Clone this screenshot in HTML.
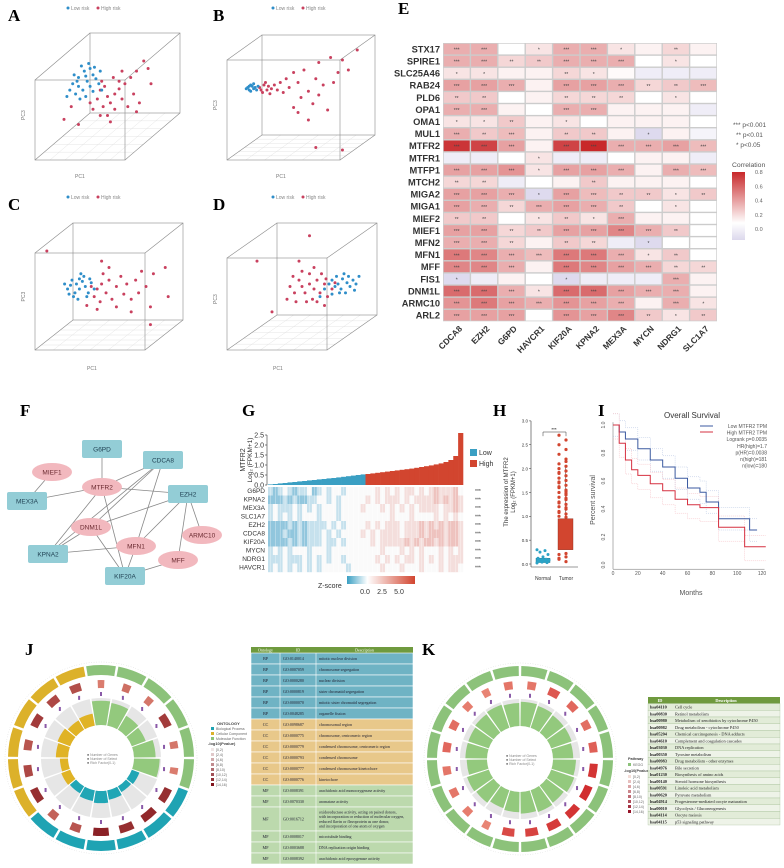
<!DOCTYPE html>
<html><head><meta charset="utf-8"><style>
html,body{margin:0;padding:0;background:#fff;}
svg{display:block;font-family:"Liberation Sans",sans-serif;}
.pl{font-family:"Liberation Serif",serif;font-weight:bold;font-size:17px;}
</style></head><body>
<svg id="fig" width="784" height="868" viewBox="0 0 784 868" xmlns="http://www.w3.org/2000/svg"></svg>
<script>
// ---------- DATA ----------
const pcaBlueA=[[30,35],[34,30],[38,28],[40,33],[36,38],[42,36],[30,42],[26,40],[33,45],[38,42],[44,40],[28,48],[35,50],[40,46],[24,45],[32,26],[45,30],[37,24],[22,50],[29,38],[41,27],[35,34],[31,52],[46,45],[27,33]];
const pcaRedA=[[45,45],[50,50],[48,42],[55,48],[52,55],[58,44],[43,52],[47,58],[60,52],[62,40],[66,35],[70,30],[75,22],[68,48],[72,55],[55,60],[50,65],[40,60],[58,38],[64,58],[80,40],[54,35],[46,38],[38,55],[25,58],[60,30],[78,28],[45,65],[70,62],[52,70],[20,68],[30,72]];
const pcaBlueB=[[14,42],[16,40],[18,43],[15,44],[17,41],[19,42],[13,43],[20,44],[16,45],[18,39],[21,41],[15,41]];
const pcaRedB=[[22,42],[25,40],[27,44],[24,46],[28,41],[30,43],[26,38],[32,40],[29,47],[34,44],[23,44],[36,38],[38,46],[40,35],[42,42],[45,30],[48,38],[50,50],[52,28],[55,45],[58,55],[60,35],[62,22],[65,40],[68,60],[70,18],[72,38],[75,30],[78,20],[82,28],[48,62],[55,68],[45,58],[62,48],[88,12],[60,90],[78,92]];
const pcaBlueC=[[25,45],[28,48],[30,52],[27,55],[32,46],[34,50],[22,52],[26,58],[30,44],[36,55],[24,49],[33,42],[38,47],[29,60],[20,48],[35,58],[31,40],[40,52],[23,56],[37,44]];
const pcaRedC=[[38,50],[42,52],[45,48],[40,58],[48,55],[50,45],[44,62],[52,60],[55,50],[58,42],[46,40],[60,56],[62,48],[65,60],[68,45],[70,55],[72,38],[75,50],[42,68],[55,66],[80,40],[88,35],[90,58],[65,70],[35,65],[50,35],[45,30],[78,66],[8,22],[78,80]];
const pcaBlueD=[[70,45],[74,48],[77,44],[80,47],[76,52],[72,50],[82,50],[78,40],[84,45],[75,55],[68,48],[86,48],[73,42],[79,55],[81,42],[70,56],[65,52],[85,53],[62,58],[88,42]];
const pcaRedD=[[55,48],[58,52],[60,45],[62,55],[52,55],[65,48],[50,50],[57,60],[48,45],[63,40],[55,40],[67,58],[45,55],[53,62],[70,52],[60,62],[46,62],[50,38],[42,50],[58,35],[66,44],[44,42],[72,47],[40,60],[48,30],[20,30],[55,10],[65,65],[30,70]];

const corrRows=["STX17","SPIRE1","SLC25A46","RAB24","PLD6","OPA1","OMA1","MUL1","MTFR2","MTFR1","MTFP1","MTCH2","MIGA2","MIGA1","MIEF2","MIEF1","MFN2","MFN1","MFF","FIS1","DNM1L","ARMC10","ARL2"];
const corrCols=["CDCA8","EZH2","G6PD","HAVCR1","KIF20A","KPNA2","MEX3A","MYCN","NDRG1","SLC1A7"];
const corrVals=[
[.3,.3,0,.1,.3,.3,.1,.05,.15,.05],[.3,.3,.15,.2,.3,.3,.3,0,.1,0],[.1,.1,.05,.05,.15,.1,.02,-.05,-.05,-.05],
[.35,.35,.3,.05,.35,.35,.3,.15,.2,.25],[.2,.2,0,.05,.15,.15,.15,0,.1,0],[.3,.3,.05,0,.3,.3,.05,.05,.05,-.05],
[.1,.1,.2,.05,.1,0,.05,.05,.05,0],[.3,.2,.25,.05,.2,.2,.05,-.1,.05,-.03],[.75,.7,.35,.05,.7,.8,.3,.3,.35,.25],
[-.05,-.05,0,.1,-.05,-.05,0,.05,.05,-.05],[.35,.35,.4,.1,.35,.35,.3,.05,.3,.25],[.15,.15,-.05,0,.05,.2,.05,.05,.05,0],
[.35,.35,.3,-.1,.35,.25,.2,.2,.1,.2],[.35,.3,.15,.3,.35,.3,.2,0,.1,0],[.2,.2,0,.1,.2,.1,.3,.05,.05,0],
[.35,.35,.15,.2,.35,.35,.45,.3,.2,0],[.3,.3,.15,.05,.2,.15,-.05,-.1,0,0],[.5,.45,.3,.25,.5,.5,.3,.1,.2,0],
[.45,.45,.3,.05,.5,.45,.35,.3,.15,.15],[-.1,-.05,.05,0,-.1,-.05,-.05,-.05,.3,.05],[.55,.55,.3,.1,.55,.55,.35,.3,.3,.05],
[.4,.5,.35,.3,.4,.35,.3,.05,.3,.1],[.35,.35,.35,0,.4,.35,.45,.2,.1,.2]];
const corrTicks=[0.8,0.6,0.4,0.2,0.0];

const exprVals=[0.03,0.05,0.08,0.10,0.13,0.15,0.18,0.20,0.23,0.25,0.28,0.30,0.33,0.35,0.38,0.41,0.44,0.47,0.50,0.53,0.55,0.58,0.61,0.64,0.67,0.70,0.73,0.76,0.79,0.82,0.86,0.90,0.94,0.98,1.03,1.08,1.15,1.25,1.45,2.6];
const exprTicks=[0,0.5,1,1.5,2,2.5];
const zGenes=["G6PD","KPNA2","MEX3A","SLC1A7","EZH2","CDCA8","KIF20A","MYCN","NDRG1","HAVCR1"];
const zRows=["1012101120121221222222323232332323433342","0001010011221212222232323332323333434343","1211121212122212222322232323232333323343","1212121222122212222222222322232222323232","0000101011112121222232323332333434343443","0001001011121212222323233332333434443443","0000101011121121222223233333434344343443","1212122212221222222222232223232322232323","1112111212121221222222323232332323232333","1212121212122222122222232223222322232332"];

const normalVals=[0.02,0.04,0.05,0.06,0.07,0.08,0.09,0.1,0.12,0.15,0.2,0.25,0.28,0.3,0.05,0.03];
const tumorVals=[2.7,2.6,2.5,2.4,2.3,2.2,2.1,2.05,2.0,1.95,1.9,1.85,1.8,1.75,1.7,1.65,1.6,1.55,1.5,1.45,1.4,1.35,1.3,1.25,1.2,1.15,1.1,1.05,1.0,0.98,0.1,0.15,0.2,0.05,0.12,0.22,1.62,1.48,1.72,1.38,1.28,1.18,1.08,2.15,1.92,1.52];
const normalBox=[0.03,0.07,0.12];
const tumorBox=[0.3,0.55,0.95,0.02,2.05];
const hTicks=[0,0.5,1,1.5,2,2.5,3];

const kmLowT=[0,5,10,20,30,40,50,60,70,75,80,85,110,116];
const kmLowS=[1,.95,.9,.83,.75,.7,.62,.55,.52,.45,.45,.33,.25,.25];
const kmHighT=[0,5,10,15,20,30,40,50,60,70,83,85,106,123];
const kmHighS=[1,.87,.75,.68,.64,.58,.53,.47,.43,.41,.41,.27,.13,.13];
const kmXTicks=[0,20,40,60,80,100,120];
const kmYTicks=[0,0.2,0.4,0.6,0.8,1.0];

const goCats=["MF","MF","MF","MF","MF","MF","BP","BP","BP","BP","BP","BP","CC","CC","CC","CC","CC","CC"];
const goGenes=[0.9,0.85,0.6,0.55,0.8,0.95,0.3,0.25,0.35,0.45,0.4,0.3,0.35,0.3,0.45,0.5,0.4,0.45];
const goP=[0.2,0.3,0.25,0.7,0.25,0.2,0.8,0.85,0.8,0.9,0.5,0.4,0.8,0.6,0.5,0.7,0.6,0.55];
const keggGenes=[0.9,0.85,0.8,0.8,0.75,0.85,0.9,0.8,0.85,0.8,0.75,0.7,0.8,0.85,0.75,0.8,0.8,0.85,0.9,0.85];
const keggP=[0.4,0.6,0.5,0.45,0.55,0.85,0.9,0.85,0.8,0.75,0.7,0.3,0.35,0.4,0.4,0.5,0.45,0.35,0.3,0.4];

const goTable=[["BP","GO:0140014","mitotic nuclear division"],["BP","GO:0007059","chromosome segregation"],["BP","GO:0000280","nuclear division"],["BP","GO:0000819","sister chromatid segregation"],["BP","GO:0000070","mitotic sister chromatid segregation"],["BP","GO:0048285","organelle fission"],["CC","GO:0098687","chromosomal region"],["CC","GO:0000775","chromosome, centromeric region"],["CC","GO:0000779","condensed chromosome, centromeric region"],["CC","GO:0000793","condensed chromosome"],["CC","GO:0000777","condensed chromosome kinetochore"],["CC","GO:0000776","kinetochore"],["MF","GO:0008391","arachidonic acid monooxygenase activity"],["MF","GO:0070330","aromatase activity"],["MF","GO:0016712","oxidoreductase activity, acting on paired donors,|with incorporation or reduction of molecular oxygen,|reduced flavin or flavoprotein as one donor,|and incorporation of one atom of oxygen"],["MF","GO:0008017","microtubule binding"],["MF","GO:0003688","DNA replication origin binding"],["MF","GO:0008392","arachidonic acid epoxygenase activity"]];
const keggTable=[["hsa04110","Cell cycle"],["hsa00830","Retinol metabolism"],["hsa00980","Metabolism of xenobiotics by cytochrome P450"],["hsa00982","Drug metabolism - cytochrome P450"],["hsa05204","Chemical carcinogenesis - DNA adducts"],["hsa04610","Complement and coagulation cascades"],["hsa03030","DNA replication"],["hsa00350","Tyrosine metabolism"],["hsa00983","Drug metabolism - other enzymes"],["hsa04976","Bile secretion"],["hsa01230","Biosynthesis of amino acids"],["hsa00140","Steroid hormone biosynthesis"],["hsa00591","Linoleic acid metabolism"],["hsa00620","Pyruvate metabolism"],["hsa04914","Progesterone-mediated oocyte maturation"],["hsa00010","Glycolysis / Gluconeogenesis"],["hsa04114","Oocyte meiosis"],["hsa04115","p53 signaling pathway"]];

// ---------- HELPERS ----------
const NS="http://www.w3.org/2000/svg";
const svg=document.getElementById('fig');
function mk(tag,attrs,parent,txt){const e=document.createElementNS(NS,tag);for(const k in attrs)e.setAttribute(k,attrs[k]);if(txt!==undefined)e.textContent=txt;(parent||svg).appendChild(e);return e;}
function grp(name){const g=mk('g',{});return g;}
function label(t,x,y){const e=mk('text',{x:x,y:y,class:'pl'},svg,t);}
function lerp(a,b,t){return a+(b-a)*t;}
function mix(c1,c2,t){return 'rgb('+[0,1,2].map(i=>Math.round(lerp(c1[i],c2[i],t))).join(',')+')';}

// ---------- PANELS A-D ----------
function pca(name,lab,lx,ly,front,off,blue,red,pc1x,pc1y){
  label(lab,lx,ly);
  const g=grp(name);
  const [x0,y0,x1,y1]=front;const [dx,dy]=off;
  const lgy=ly-13;
  const lxx=lx+60;
  const lg=mk('g',{},g);
  mk('circle',{cx:lxx,cy:lgy,r:1.5,fill:'#2f8ec9'},lg);mk('text',{x:lxx+3,y:lgy+2,'font-size':5,fill:'#888'},lg,'Low risk');
  mk('circle',{cx:lxx+30,cy:lgy,r:1.5,fill:'#c9415f'},lg);mk('text',{x:lxx+33,y:lgy+2,'font-size':5,fill:'#888'},lg,'High risk');
  const st={stroke:'#8a8a8a','stroke-width':0.6,fill:'none'};
  for(let i=1;i<6;i++){const t=i/6;
    mk('line',{x1:lerp(x0,x1,t),y1:y1,x2:lerp(x0,x1,t)+dx,y2:y1+dy,stroke:'#ddd','stroke-width':0.4},g);
    mk('line',{x1:x0+dx*t,y1:y1+dy*t,x2:x1+dx*t,y2:y1+dy*t,stroke:'#ddd','stroke-width':0.4},g);}
  mk('rect',Object.assign({x:x0+dx,y:y0+dy,width:x1-x0,height:y1-y0},st),g);
  mk('rect',Object.assign({x:x0,y:y0,width:x1-x0,height:y1-y0},st),g);
  [[x0,y0],[x1,y0],[x0,y1],[x1,y1]].forEach(p=>mk('line',Object.assign({x1:p[0],y1:p[1],x2:p[0]+dx,y2:p[1]+dy},st),g));
  const sx=x0,sw=(x1+dx)-x0,sy=y0+dy,sh=y1-(y0+dy);
  const pts=(arr,col,n)=>arr.forEach(p=>{const c=mk('circle',{cx:sx+p[0]/100*sw,cy:sy+p[1]/100*sh,r:1.5,fill:col},g);
    
    });
  pts(red,'#c9415f','high-risk-point');pts(blue,'#2f8ec9','low-risk-point');
  mk('text',{x:pc1x,y:pc1y,'font-size':5,fill:'#777'},g,'PC1');
  mk('text',{x:x0-10,y:(y0+y1)/2,'font-size':5,fill:'#777',transform:`rotate(-90 ${x0-10} ${(y0+y1)/2})`},g,'PC3');
}
pca('pca-plot-a','A',8,21,[35,80,125,160],[55,-47],pcaBlueA,pcaRedA,75,178);
pca('pca-plot-b','B',213,21,[227,60,340,160],[35,-25],pcaBlueB,pcaRedB,276,178);
pca('pca-plot-c','C',8,210,[35,253,145,350],[38,-30],pcaBlueC,pcaRedC,87,370);
pca('pca-plot-d','D',213,210,[227,258,327,350],[50,-35],pcaBlueD,pcaRedD,273,370);

// ---------- PANEL E ----------
label('E',398,14);
(function(){
  const g=grp('correlation-heatmap');
  const gx=443,gy=43,cw=27.4,ch=12.1;
  mk('rect',{x:gx,y:gy,width:cw*corrCols.length,height:ch*corrRows.length,fill:'#ccc'},g);
  const col=v=>v>=0?mix([255,255,255],[200,40,42],Math.min(v/0.8,1)):mix([255,255,255],[222,218,238],Math.min(-v/0.1,1));
  corrRows.forEach((r,i)=>{
    const t=mk('text',{x:gx-3,y:gy+ch*i+ch/2+3.3,'font-size':9.3,'font-weight':'bold','text-anchor':'end',fill:'#333'},g,r);
    
    corrCols.forEach((c,j)=>{const v=corrVals[i][j];
      const cell=mk('rect',{x:gx+cw*j+0.7,y:gy+ch*i+0.7,width:cw-1.4,height:ch-1.4,fill:col(v)},g);
      
      
      const a=Math.abs(v);const s=a>=0.25?'***':a>=0.15?'**':a>=0.1?'*':'';
      if(s)mk('text',{x:gx+cw*j+cw/2,y:gy+ch*i+ch/2+2.5,'font-size':5,'text-anchor':'middle',fill:'#444'},g,s);
    });});
  corrCols.forEach((c,j)=>{const x=gx+cw*j+cw/2+6,y=gy+ch*corrRows.length+8;
    const t=mk('text',{x:x,y:y,'font-size':8.5,'font-weight':'bold','text-anchor':'end',fill:'#333',transform:`rotate(-45 ${x} ${y})`},g,c);
    });
  const lg=mk('g',{},g);
  [['***  p<0.001',127],['**  p<0.01',137],['*  p<0.05',147]].forEach((p,i)=>mk('text',{x:733+(i?3:0),y:p[1],'font-size':6.5,fill:'#555'},lg,p[0]));
  mk('text',{x:732,y:167,'font-size':6.8,fill:'#555'},lg,'Correlation');
  const def=mk('defs',{},svg);const lgd=mk('linearGradient',{id:'cg',x1:0,y1:0,x2:0,y2:1},def);
  mk('stop',{offset:'0','stop-color':'#c8282a'},lgd);mk('stop',{offset:'0.75','stop-color':'#fff'},lgd);mk('stop',{offset:'1','stop-color':'#dcd8ec'},lgd);
  mk('rect',{x:732,y:172,width:13,height:68,fill:'url(#cg)'},lg);
  const cy=v=>229-v/0.8*57;
  corrTicks.forEach(v=>mk('text',{x:755,y:cy(v)+2,'font-size':5.5,fill:'#666'},lg,v.toFixed(1)));
})();

// ---------- PANEL F ----------
label('F',20,416);
(function(){
  const g=grp('ppi-network');
  const nodes={G6PD:[102,449,'r'],CDCA8:[163,460,'r'],MIEF1:[52,472,'e'],MTFR2:[102,487,'e'],MEX3A:[27,501,'r'],EZH2:[188,494,'r'],DNM1L:[91,527,'e'],ARMC10:[202,535,'e'],MFN1:[136,546,'e'],KPNA2:[48,554,'r'],MFF:[178,560,'e'],KIF20A:[125,576,'r']};
  const edges=[['G6PD','MTFR2'],['MIEF1','MEX3A'],['MEX3A','MTFR2'],['MTFR2','CDCA8'],['MTFR2','EZH2'],['MTFR2','KPNA2'],['MTFR2','KIF20A'],['CDCA8','DNM1L'],['CDCA8','MFN1'],['EZH2','DNM1L'],['EZH2','MFN1'],['EZH2','ARMC10'],['EZH2','MFF'],['DNM1L','KPNA2'],['DNM1L','KIF20A'],['MFN1','KPNA2'],['MFN1','KIF20A'],['MFF','KIF20A'],['CDCA8','KPNA2']];
  edges.forEach(e=>{const a=nodes[e[0]],b=nodes[e[1]];mk('line',{x1:a[0],y1:a[1],x2:b[0],y2:b[1],stroke:'#888','stroke-width':0.8},g);});
  for(const k in nodes){const n=nodes[k];const ng=mk('g',{},g);
    if(n[2]==='r')mk('rect',{x:n[0]-20,y:n[1]-9,width:40,height:18,rx:2,fill:'#93cdd6'},ng);
    else mk('ellipse',{cx:n[0],cy:n[1],rx:20,ry:9,fill:'#f2b8be'},ng);
    mk('text',{x:n[0],y:n[1]+2.5,'font-size':6.5,'text-anchor':'middle',fill:n[2]==='r'?'#245':'#6a2a30'},ng,k);}
})();

// ---------- PANEL G ----------
label('G',242,416);
(function(){
  const g=grp('expression-ranked-heatmap');
  const x0=268,x1=463,y0=485;const bw=(x1-x0)/exprVals.length;
  const y=v=>y0-v*20;
  mk('line',{x1:x0-1,y1:y(0),x2:x0-1,y2:y(2.5),stroke:'#333','stroke-width':0.6},g);
  exprTicks.forEach(t=>{mk('line',{x1:x0-3,y1:y(t),x2:x0-1,y2:y(t),stroke:'#333','stroke-width':0.6},g);mk('text',{x:x0-4,y:y(t)+2.5,'font-size':7,'text-anchor':'end',fill:'#333'},g,t.toFixed(1));});
  exprVals.forEach((v,i)=>{const b=mk('rect',{x:x0+i*bw,y:y(v),width:bw+0.3,height:v*20,fill:i<exprVals.length/2?'#3a9fc3':'#d2452f'},g);
    });
  mk('text',{x:245,y:460,'font-size':7,'text-anchor':'middle',fill:'#333',transform:'rotate(-90 245 460)'},g,'MTFR2');
  mk('text',{x:252,y:460,'font-size':6.5,'text-anchor':'middle',fill:'#333',transform:'rotate(-90 252 460)'},g,'Log₂ (FPKM+1)');
  mk('rect',{x:470,y:449,width:7,height:7,fill:'#3a9fc3'},g);mk('text',{x:479,y:455,'font-size':7,fill:'#333'},g,'Low');
  mk('rect',{x:470,y:460,width:7,height:7,fill:'#d2452f'},g);mk('text',{x:479,y:466,'font-size':7,fill:'#333'},g,'High');
  const hy=487,rh=8.5,cols=zRows[0].length,cw=(x1-x0)/cols;
  const zc=d=>d<2?mix([250,252,253],[110,180,210],(2-d)/2*0.75):mix([250,250,250],[220,110,100],(d-2)/3*0.6);
  zGenes.forEach((gn,i)=>{mk('text',{x:x0-3,y:hy+rh*i+6,'font-size':6.5,'text-anchor':'end',fill:'#333'},g,gn);
    mk('text',{x:475,y:hy+rh*i+6,'font-size':5,fill:'#333'},g,'***');
    zRows[i].split('').forEach((d,j)=>{const c=mk('rect',{x:x0+j*cw,y:hy+rh*i,width:cw+0.2,height:rh+0.2,fill:zc(+d)},g);
      
      mk('line',{x1:x0+j*cw+cw/2,y1:hy+rh*i,x2:x0+j*cw+cw/2,y2:hy+rh*(i+1),stroke:'#fff','stroke-width':0.5,'stroke-opacity':0.6},g);});});
  const def=mk('defs',{},svg);const lgd=mk('linearGradient',{id:'zg'},def);
  mk('stop',{offset:'0','stop-color':'#3a9fc3'},lgd);mk('stop',{offset:'0.3','stop-color':'#fff'},lgd);mk('stop',{offset:'1','stop-color':'#d2452f'},lgd);
  mk('rect',{x:347,y:576,width:68,height:8,fill:'url(#zg)'},g);
  mk('text',{x:318,y:588,'font-size':7,fill:'#333'},g,'Z-score');
  [['0.0',365],['2.5',382],['5.0',399]].forEach(p=>mk('text',{x:p[1],y:594,'font-size':7,'text-anchor':'middle',fill:'#333'},g,p[0]));
})();

// ---------- PANEL H ----------
label('H',493,416);
(function(){
  const g=grp('mtfr2-boxplot');
  const ax=531,y=v=>564-v*47.7;
  mk('line',{x1:ax,y1:y(0)+3,x2:ax,y2:y(3),stroke:'#333','stroke-width':0.6},g);
  mk('line',{x1:ax,y1:y(0)+3,x2:578,y2:y(0)+3,stroke:'#333','stroke-width':0.6},g);
  hTicks.forEach(t=>{mk('line',{x1:ax-2,y1:y(t),x2:ax,y2:y(t),stroke:'#333','stroke-width':0.5},g);mk('text',{x:ax-3,y:y(t)+1.8,'font-size':4.5,'text-anchor':'end',fill:'#333'},g,t.toFixed(1));});
  mk('text',{x:508,y:492,'font-size':6,'text-anchor':'middle',fill:'#333',transform:'rotate(-90 508 492)'},g,'The expression of MTFR2');
  mk('text',{x:515,y:492,'font-size':6,'text-anchor':'middle',fill:'#333',transform:'rotate(-90 515 492)'},g,'Log₂ (FPKM+1)');
  mk('rect',{x:536,y:y(normalBox[2]),width:14,height:(normalBox[2]-normalBox[0])*47.7,fill:'#2ba3c6',stroke:'#1a6a80','stroke-width':0.4},g);
  mk('rect',{x:558,y:y(tumorBox[2]),width:15,height:(tumorBox[2]-tumorBox[0])*47.7,fill:'#d2452f',stroke:'#8a2a1a','stroke-width':0.4},g);
  mk('line',{x1:565.5,y1:y(tumorBox[2]),x2:565.5,y2:y(tumorBox[4]),stroke:'#333','stroke-width':0.5},g);
  normalVals.forEach((v,i)=>{const c=mk('circle',{cx:537+(i*5%13),cy:y(v),r:1.5,fill:'#2ba3c6'},g);});
  tumorVals.forEach((v,i)=>{const c=mk('circle',{cx:559+(i*7%14),cy:y(v),r:1.6,fill:'#d2452f'},g);});
  mk('path',{d:`M543 ${y(2.68)} V432 H566 V${y(2.68)}`,fill:'none',stroke:'#333','stroke-width':0.5},g);
  mk('text',{x:554,y:431,'font-size':4.5,'text-anchor':'middle'},g,'***');
  mk('text',{x:543,y:580,'font-size':5,'text-anchor':'middle',fill:'#333'},g,'Normal');
  mk('text',{x:566,y:580,'font-size':5,'text-anchor':'middle',fill:'#333'},g,'Tumor');
})();

// ---------- PANEL I ----------
label('I',598,416);
(function(){
  const g=grp('survival-plot');
  const x=m=>613+m*1.242,y=s=>565-s*140;
  mk('text',{x:692,y:418,'font-size':8,'text-anchor':'middle',fill:'#333'},g,'Overall Survival');
  mk('line',{x1:x(0),y1:y(-0.03),x2:x(0),y2:y(1.02),stroke:'#666','stroke-width':0.5},g);
  mk('line',{x1:x(0),y1:y(-0.03),x2:x(122),y2:y(-0.03),stroke:'#666','stroke-width':0.5},g);
  kmYTicks.forEach(t=>{mk('text',{x:605,y:y(t),'font-size':5,'text-anchor':'middle',fill:'#555',transform:`rotate(-90 605 ${y(t)})`},g,t.toFixed(1));});
  kmXTicks.forEach(t=>mk('text',{x:x(t),y:575,'font-size':5,'text-anchor':'middle',fill:'#555'},g,String(t)));
  mk('text',{x:691,y:595,'font-size':7,'text-anchor':'middle',fill:'#555'},g,'Months');
  mk('text',{x:595,y:500,'font-size':7,'text-anchor':'middle',fill:'#555',transform:'rotate(-90 595 500)'},g,'Percent survival');
  const step=(T,S,col,dy,w,dash,nm)=>{let d=`M${x(T[0])} ${y(S[0]+dy)}`;for(let i=1;i<T.length;i++)d+=` H${x(T[i])} V${y(Math.max(0.02,S[i]+dy))}`;
    const p=mk('path',{d:d,fill:'none',stroke:col,'stroke-width':w,'stroke-dasharray':dash||'none'},g);};
  step(kmLowT,kmLowS,'#9ab0d8',0.08,0.4,'1,1','low-ci-upper');step(kmLowT,kmLowS,'#9ab0d8',-0.08,0.4,'1,1','low-ci-lower');
  step(kmHighT,kmHighS,'#f0a0a8',0.08,0.4,'1,1','high-ci-upper');step(kmHighT,kmHighS,'#f0a0a8',-0.1,0.4,'1,1','high-ci-lower');
  step(kmLowT,kmLowS,'#3b5aa0',0,1,null,'low-survival-line');step(kmHighT,kmHighS,'#d63040',0,1,null,'high-survival-line');
  mk('line',{x1:700,y1:426,x2:713,y2:426,stroke:'#3b5aa0','stroke-width':1},g);
  mk('line',{x1:700,y1:432,x2:713,y2:432,stroke:'#d63040','stroke-width':1},g);
  ['Low MTFR2 TPM','High MTFR2 TPM','Logrank p=0.0035','HR(high)=1.7','p(HR)=0.0038','n(high)=181','n(low)=180'].forEach((t,i)=>mk('text',{x:767,y:428+i*6.6,'font-size':5,'text-anchor':'end',fill:'#555'},g,t));
})();

// ---------- CIRCOS ----------
function arc(cx,cy,r0,r1,a0,a1){const rad=a=>a*Math.PI/180;const p=(r,a)=>[cx+r*Math.cos(rad(a)),cy+r*Math.sin(rad(a))];
  const [a,b]=[p(r1,a0),p(r1,a1)],[c,d]=[p(r0,a1),p(r0,a0)];const lg=(a1-a0)>180?1:0;
  return `M${a[0]} ${a[1]} A${r1} ${r1} 0 ${lg} 1 ${b[0]} ${b[1]} L${c[0]} ${c[1]} A${r0} ${r0} 0 ${lg} 0 ${d[0]} ${d[1]}Z`;}
function circos(name,cx,cy,cats,genes,pv,catCol,startA,pcol){
  const g=grp(name);const n=genes.length,span=360/n;
  mk('circle',{cx:cx,cy:cy,r:96,fill:'none',stroke:'#bbb','stroke-width':0.5,'stroke-dasharray':'0.5,2'},g);
  for(let i=0;i<n;i++){const a0=startA+i*span+0.8,a1=startA+(i+1)*span-0.8;const col=catCol[cats[i]];
    const s=mk('path',{d:arc(cx,cy,83,93,a0,a1),fill:col.ring},g);
    mk('path',{d:arc(cx,cy,33,60,a0,a1),fill:'#e6e6e6'},g);
    const b=mk('path',{d:arc(cx,cy,33,33+genes[i]*27,a0,a1),fill:col.bar},g);
    const pm=(a0+a1)/2;const w=span*0.5*pv[i]+3;
    const pb=mk('path',{d:arc(cx,cy,70,78,pm-w/2,pm+w/2),fill:pcol(pv[i])},g);
    const ra=pm*Math.PI/180;mk('rect',{x:cx+64*Math.cos(ra)-1,y:cy+64*Math.sin(ra)-2,width:2,height:4,fill:'#8a5aa8'},g);}
  mk('text',{x:cx-14,y:cy-2,'font-size':3.5,fill:'#888'},g,'■ Number of Genes');
  mk('text',{x:cx-14,y:cy+2,'font-size':3.5,fill:'#888'},g,'■ Number of Select');
  mk('text',{x:cx-14,y:cy+6,'font-size':3.5,fill:'#888'},g,'■ Rich Factor(0-1)');
  return g;}
label('J',25,655);
circos('go-circos',101,758,goCats,goGenes,goP,{MF:{ring:'#8cc27a',bar:'#93c97d'},BP:{ring:'#1fa3b3',bar:'#21a6b5'},CC:{ring:'#dcb12a',bar:'#e0b325'}},-100,p=>mix([240,150,130],[128,20,28],p));
(function(){const g=grp('go-legend');
  mk('text',{x:217,y:725,'font-size':4,'font-weight':'bold',fill:'#444'},g,'ONTOLOGY');
  [['#1fa3b3','Biological Process'],['#dcb12a','Cellular Component'],['#8cc27a','Molecular Function']].forEach((p,i)=>{mk('rect',{x:211,y:727+i*5,width:3,height:3,fill:p[0]},g);mk('text',{x:216,y:730+i*5,'font-size':3.5,fill:'#666'},g,p[1]);});
  mk('text',{x:208,y:745,'font-size':4,'font-weight':'bold',fill:'#444'},g,'-log10(Pvalue)');
  for(let i=0;i<8;i++){mk('rect',{x:211,y:748+i*5,width:3,height:3,fill:mix([240,230,230],[128,20,28],i/7)},g);mk('text',{x:216,y:751+i*5,'font-size':3.5,fill:'#666'},g,'['+i*2+','+(i*2+2)+')');}
})();
(function(){const g=grp('go-table');const x0=251,w=162,c1=29,c2=36;let yy=647;
  mk('rect',{x:x0,y:yy,width:w,height:6,fill:'#6f9a3e'},g);
  [['Ontology',x0+c1/2],['ID',x0+c1+c2/2],['Description',x0+c1+c2+(w-c1-c2)/2]].forEach(p=>mk('text',{x:p[1],y:yy+4.5,'font-size':4,'text-anchor':'middle',fill:'#fff','font-family':'Liberation Serif'},g,p[0]));
  yy+=6;
  const bg={BP:'#6fb3c4',CC:'#e8c88a',MF:'#bcd9ad'};
  goTable.forEach(r=>{const lines=r[2].split('|');const h=lines.length>1?24:11;
    const rg=mk('g',{},g);
    mk('rect',{x:x0,y:yy,width:w,height:h,fill:bg[r[0]],stroke:'#fff','stroke-width':0.6},rg);
    mk('line',{x1:x0+c1,y1:yy,x2:x0+c1,y2:yy+h,stroke:'#fff','stroke-width':0.6},rg);mk('line',{x1:x0+c1+c2,y1:yy,x2:x0+c1+c2,y2:yy+h,stroke:'#fff','stroke-width':0.6},rg);
    mk('text',{x:x0+c1/2,y:yy+h/2+1.5,'font-size':4.2,'text-anchor':'middle',fill:'#223','font-family':'Liberation Serif'},rg,r[0]);
    mk('text',{x:x0+c1+3,y:yy+h/2+1.5,'font-size':4,fill:'#223','font-family':'Liberation Serif'},rg,r[1]);
    lines.forEach((l,k)=>mk('text',{x:x0+c1+c2+3,y:yy+h/2+1.5+(k-(lines.length-1)/2)*4.8,'font-size':4,fill:'#223','font-family':'Liberation Serif'},rg,l));
    yy+=h;});
})();
label('K',422,655);
circos('kegg-circos',520,759,keggGenes.map(()=>'P'),keggGenes,keggP,{P:{ring:'#8cc27a',bar:'#93c97d'}},-90,p=>mix([244,176,150],[205,30,35],p));
(function(){const g=grp('kegg-legend');
  mk('text',{x:628,y:760,'font-size':3.8,'font-weight':'bold',fill:'#444'},g,'Pathway');
  mk('rect',{x:628,y:763,width:3,height:3,fill:'#8cc27a'},g);mk('text',{x:633,y:766,'font-size':3.5,fill:'#666'},g,'KEGG');
  mk('text',{x:624,y:772,'font-size':3.8,'font-weight':'bold',fill:'#444'},g,'-log10(Pvalue)');
  for(let i=0;i<8;i++){mk('rect',{x:628,y:775+i*5,width:3,height:3,fill:mix([245,220,215],[150,20,40],i/7)},g);mk('text',{x:633,y:778+i*5,'font-size':3.5,fill:'#666'},g,'['+i*2+','+(i*2+2)+')');}
})();
(function(){const g=grp('kegg-table');const x0=648,w=132,c1=24;let yy=697;
  mk('rect',{x:x0,y:yy,width:w,height:6.5,fill:'#6f9a3e'},g);
  mk('text',{x:x0+c1/2,y:yy+5,'font-size':4.3,'text-anchor':'middle',fill:'#fff','font-weight':'bold','font-family':'Liberation Serif'},g,'ID');
  mk('text',{x:x0+c1+(w-c1)/2,y:yy+5,'font-size':4.3,'text-anchor':'middle',fill:'#fff','font-weight':'bold','font-family':'Liberation Serif'},g,'Description');
  yy+=6.5;const h=6.75;
  keggTable.forEach((r,i)=>{const rg=mk('g',{},g);
    mk('rect',{x:x0,y:yy,width:w,height:h,fill:i%2?'#eef3e8':'#e2ecd8',stroke:'#9ab98a','stroke-width':0.3},rg);
    mk('text',{x:x0+2,y:yy+5,'font-size':4.3,'font-weight':'bold',fill:'#222','font-family':'Liberation Serif'},rg,r[0]);
    mk('text',{x:x0+c1+3,y:yy+5,'font-size':4.3,fill:'#222','font-family':'Liberation Serif'},rg,r[1]);
    yy+=h;});
})();
</script>
</body></html>
